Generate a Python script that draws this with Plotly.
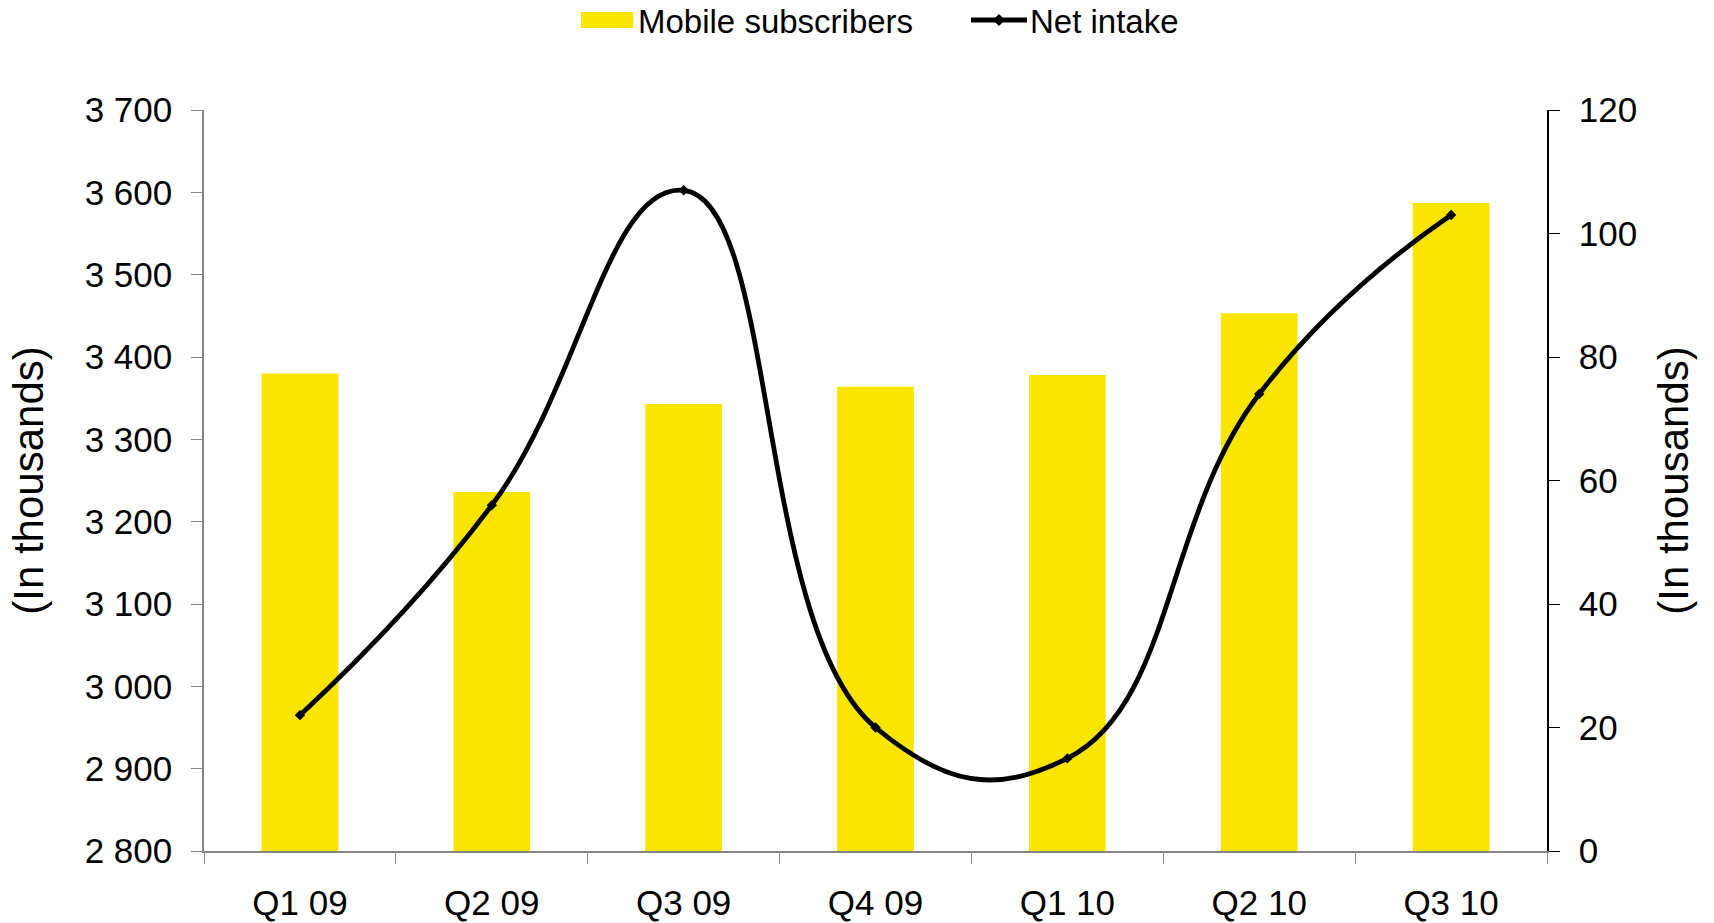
import plotly.graph_objects as go

# Quarterly data (thousands)
quarters = ["Q1 09", "Q2 09", "Q3 09", "Q4 09", "Q1 10", "Q2 10", "Q3 10"]
mobile_subscribers = [3380, 3236, 3343, 3364, 3378, 3453, 3587]
net_intake = [22, 56, 107, 20, 15, 74, 103]
series_names = ["Mobile subscribers", "Net intake"]

YELLOW = "#F9E500"
FONT = "Liberation Sans, Arial, sans-serif"
GREY = "#868686"

W, H = 1714, 923
ML, MR, MT, MB = 204, 167, 110, 72
PW, PH = W - ML - MR, H - MT - MB


def px(x):
    """Horizontal pixel position -> paper fraction."""
    return (x - ML) / PW


def py(y):
    """Vertical pixel position (from top) -> paper fraction."""
    return 1 - (y - MT) / PH


fig = go.Figure()

# Subscribers as bars on the left axis
fig.add_trace(go.Bar(
    x=quarters, y=mobile_subscribers, name=series_names[0],
    marker=dict(color=YELLOW, line=dict(width=0)),
    width=0.4, yaxis="y", showlegend=False,
))
# Net intake as a smoothed line on the right axis
fig.add_trace(go.Scatter(
    x=quarters, y=net_intake, name=series_names[1], mode="lines+markers",
    line=dict(color="black", width=4.8, shape="spline", smoothing=1.3),
    marker=dict(symbol="diamond", size=8, color="black"),
    yaxis="y2", showlegend=False,
))

# Legend across the top: wide yellow swatch, line sample with a diamond
legend_shapes = [
    dict(type="rect", xref="paper", yref="paper",
         x0=px(581), x1=px(633), y0=py(28), y1=py(12),
         fillcolor=YELLOW, line=dict(width=0)),
    dict(type="line", xref="paper", yref="paper",
         x0=px(971), x1=px(1027), y0=py(20), y1=py(20),
         line=dict(color="black", width=4.8)),
    dict(type="path", xref="paper", yref="paper",
         path=(f"M {px(993)},{py(20)} L {px(999)},{py(14)} "
               f"L {px(1005)},{py(20)} L {px(999)},{py(26)} Z"),
         fillcolor="black", line=dict(width=0)),
]
legend_labels = [
    dict(text=series_names[0], x=px(636), y=py(21)),
    dict(text=series_names[1], x=px(1028), y=py(21)),
]

fig.update_layout(
    width=W, height=H,
    margin=dict(l=ML, r=MR, t=MT, b=MB),
    plot_bgcolor="white", paper_bgcolor="white",
    font=dict(family=FONT, size=35, color="black"),
    separators=". ",
    showlegend=False,
    shapes=legend_shapes,
    annotations=[
        dict(text=a["text"], x=a["x"], y=a["y"], xref="paper", yref="paper",
             xanchor="left", yanchor="middle", showarrow=False,
             font=dict(size=33, family=FONT, color="black"))
        for a in legend_labels
    ],
    xaxis=dict(
        type="category", range=[-0.5, 6.5], automargin=False,
        showline=True, linecolor=GREY, linewidth=1.5,
        ticks="outside", tickson="boundaries", ticklen=11, tickcolor=GREY,
        ticklabelstandoff=20, showgrid=False, zeroline=False,
    ),
    yaxis=dict(
        range=[2800, 3700], dtick=100, tickformat=",d", automargin=False,
        showline=True, linecolor=GREY, linewidth=1.5,
        ticks="outside", ticklen=11, tickcolor=GREY,
        ticklabelstandoff=12, showgrid=False, zeroline=False,
        title=dict(text="(In thousands)", standoff=28),
    ),
    yaxis2=dict(
        range=[0, 120], dtick=20, overlaying="y", side="right", automargin=False,
        showline=True, linecolor="black", linewidth=1.5,
        ticks="outside", ticklen=11, tickcolor="black",
        ticklabelstandoff=12, showgrid=False, zeroline=False,
        title=dict(text="(In thousands)", standoff=22),
    ),
    # inward half of the crossing ticks on the right axis
    yaxis3=dict(
        range=[0, 120], dtick=20, overlaying="y", side="right", automargin=False,
        showline=False, ticks="inside", ticklen=11, tickcolor="black",
        showticklabels=False, showgrid=False, zeroline=False,
    ),
)

fig.write_html("out.html")
